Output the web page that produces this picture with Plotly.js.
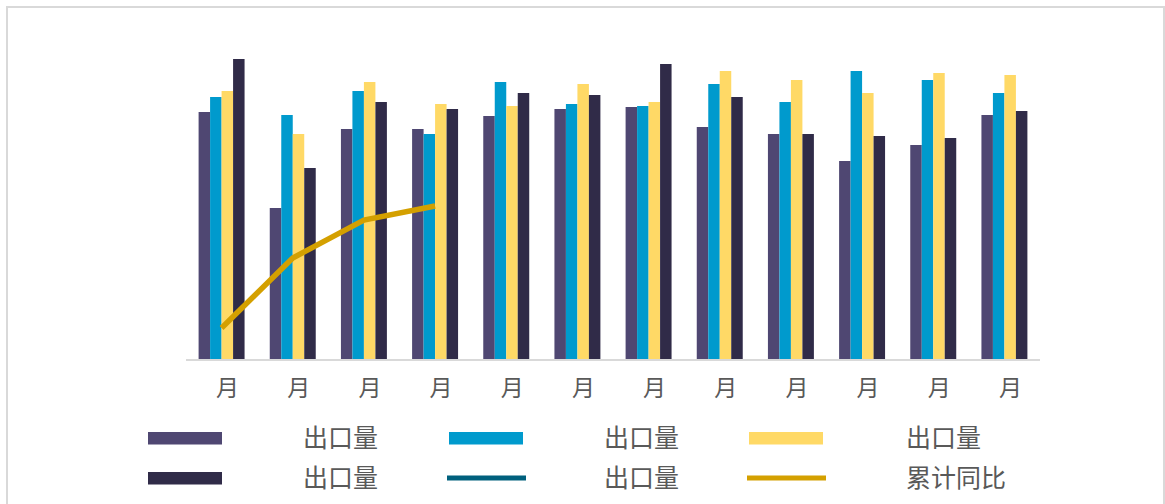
<!DOCTYPE html>
<html><head><meta charset="utf-8">
<script src="https://cdn.plot.ly/plotly-3.0.1.min.js"></script>
<style>html,body{margin:0;padding:0;background:#fff;overflow:hidden}</style>
</head><body><div id="chart" style="width:1165px;height:504px"></div>
<script>
// ---- data ----
const tickLabels = ['月','月','月','月','月','月','月','月','月','月','月','月'];
const seriesNames = ['出口量','出口量','出口量','出口量','出口量','累计同比'];
const exportA = [247,151,230,230,243,250,252,232,225,198,214,244];
const exportB = [262,244,268,225,277,255,253,275,257,288,279,266];
const exportC = [268,225,277,255,253,275,257,288,279,266,286,284];
const exportD = [300,191,257,250,266,264,295,262,225,223,221,248];
const exportLine = [null,null,null,null,null,null,null,null,null,null,null,null];
const cumYoY = [31,101,139,153,null,null,null,null,null,null,null,null];

// ---- styles ----
const colors = ['#4F4772','#009ACD','#FFD966','#302B48','#00607D','#D4A000'];
const W = 1165, H = 504, L = 186, R = 125, T = 9, B = 145;
const PW = W - L - R, PH = H - T - B;
const px = v => (v - L) / PW;
const py = v => (H - B - v) / PH;
const font = '"Noto Sans CJK SC", "Noto Sans", sans-serif';

const xs = tickLabels.map((_, i) => i);
const barSeries = [exportA, exportB, exportC, exportD];
const traces = barSeries.map((ys, k) => ({
  type: 'bar', x: xs, y: ys, name: seriesNames[k],
  marker: {color: colors[k], line: {width: 0}}, showlegend: false
}));
traces.push({type: 'scatter', mode: 'lines', x: xs, y: exportLine, name: seriesNames[4],
  yaxis: 'y2', line: {color: colors[4], width: 5}, showlegend: false});
traces.push({type: 'scatter', mode: 'lines', x: xs, y: cumYoY, name: seriesNames[5],
  yaxis: 'y2', line: {color: colors[5], width: 5.5}, showlegend: false});

// custom legend (2 rows x 3 columns)
const shapes = [];
const annotations = [];
const colSym = [147, 448, 748];
const colText = [302, 603, 905];
const rowY = [438, 478];
seriesNames.forEach((nm, k) => {
  const c = k % 3, r = Math.floor(k / 3);
  const isLine = k >= 4;
  if (isLine) {
    shapes.push({type: 'line', xref: 'paper', yref: 'paper',
      x0: px(colSym[c] - 1), x1: px(colSym[c] + 78), y0: py(rowY[r]), y1: py(rowY[r]),
      line: {color: colors[k], width: 5}});
  } else {
    shapes.push({type: 'rect', xref: 'paper', yref: 'paper',
      x0: px(colSym[c] + 1), x1: px(colSym[c] + 75), y0: py(rowY[r] - 6), y1: py(rowY[r] + 6.5),
      fillcolor: colors[k], line: {width: 0}});
  }
  annotations.push({xref: 'paper', yref: 'paper', x: px(colText[c] - 1), y: py(rowY[r] - 2),
    xanchor: 'left', yanchor: 'middle', text: nm, showarrow: false,
    font: {family: font, size: 25, color: '#595959'}});
});
// outer frame
shapes.push({type: 'rect', xref: 'paper', yref: 'paper', x0: px(7), x1: px(1164), y0: py(515), y1: py(7),
  line: {color: '#D9D9D9', width: 2}, fillcolor: 'rgba(0,0,0,0)', layer: 'below'});

const layout = {
  width: W, height: H, margin: {l: L, r: R, t: T, b: B, pad: 0},
  paper_bgcolor: '#fff', plot_bgcolor: '#fff',
  barmode: 'group', bargap: 0.354, bargroupgap: 0,
  xaxis: {range: [-0.5, 11.5], tickvals: xs, ticktext: tickLabels, showline: true,
    linecolor: '#D9D9D9', linewidth: 1.5, showgrid: false, zeroline: false, ticks: '',
    ticklabelstandoff: 8, ticklabelshift: 6,
    tickfont: {family: font, size: 23, color: '#595959'}},
  yaxis: {range: [0, 350], visible: false, showgrid: false, zeroline: false},
  yaxis2: {range: [0, 350], overlaying: 'y', visible: false, showgrid: false, zeroline: false},
  shapes: shapes, annotations: annotations, showlegend: false
};
Plotly.newPlot('chart', traces, layout, {staticPlot: true, displayModeBar: false});
</script></body></html>
